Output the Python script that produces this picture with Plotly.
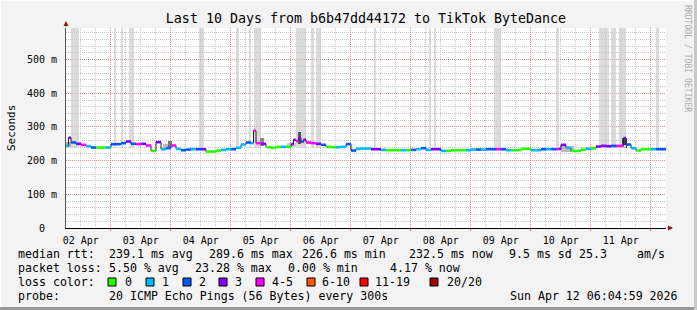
import plotly.graph_objects as go

# ---------------- data ----------------
day_labels = ["02 Apr", "03 Apr", "04 Apr", "05 Apr", "06 Apr",
              "07 Apr", "08 Apr", "09 Apr", "10 Apr", "11 Apr"]
# hours since graph start (Apr 2 06:05)
NOON_FIRST = 5.917
MIDNIGHT_FIRST = 17.917
SPAN_H = 240

hours = [0, 1, 2, 4, 6, 8, 10, 12, 14, 16, 18, 20, 22, 24, 26, 28, 30, 32, 34, 36, 38,
         40, 42, 44, 46, 48, 50, 52, 54, 56, 58,
         60, 62, 64, 66, 68, 70, 72, 74, 75, 76, 78, 80, 82, 84, 86, 88, 90, 91, 92, 93,
         94, 95, 96, 98, 100, 102, 104, 106, 108, 110, 112, 114, 116, 118,
         120, 122, 124, 126, 128, 130, 132, 134, 136, 138, 140, 142, 144, 146, 148, 150,
         152, 154, 156, 158, 160, 162, 164, 166, 168, 170, 172, 174, 176, 178, 180,
         182, 184, 186, 188, 190, 192, 194, 196, 197, 198, 200, 202, 204, 206, 208, 210,
         212, 214, 216, 218, 220, 222, 223, 224, 226, 228, 230, 232, 234, 236, 238]
median_rtt_ms = [244, 268, 254, 250, 247, 243, 239, 239, 239, 239, 249, 249, 252, 257, 250, 249, 250, 245, 229, 255, 234,
                 237, 245, 235, 231, 233, 234, 234, 234, 227, 227,
                 230, 232, 234, 234, 238, 248, 254, 252, 289, 252, 250, 240, 238, 241, 241, 241, 249, 262, 258, 267,
                 256, 262, 254, 252, 250, 247, 241, 240, 240, 241, 249, 230, 235, 236,
                 236, 234, 234, 232, 231, 231, 231, 231, 231, 232, 234, 237, 232, 234, 234, 229,
                 229, 231, 231, 231, 231, 233, 233, 233, 234, 234, 234, 234, 231, 231, 231,
                 235, 235, 231, 231, 234, 234, 234, 234, 235, 247, 238, 229, 229, 232, 235, 237,
                 242, 244, 243, 244, 244, 244, 267, 248, 237, 230, 234, 234, 234, 234, 234]
loss_count = [1, 3, 2, 3, 4, 1, 2, 0, 0, 1, 2, 2, 2, 3, 2, 4, 3, 4, 0, 3, 1,
              2, 4, 1, 2, 2, 1, 2, 3, 0, 0,
              0, 1, 1, 2, 1, 1, 2, 1, 4, 4, 3, 0, 0, 0, 1, 0, 3, 3, 4, 3,
              2, 3, 4, 4, 3, 2, 0, 0, 1, 1, 2, 2, 1, 1,
              1, 3, 3, 1, 0, 0, 0, 1, 0, 2, 1, 2, 1, 3, 3, 1,
              0, 0, 0, 0, 1, 1, 2, 1, 2, 2, 4, 2, 1, 0, 0,
              0, 0, 1, 1, 2, 1, 2, 4, 3, 3, 1, 0, 0, 0, 1, 0,
              3, 3, 3, 2, 4, 4, 3, 2, 1, 0, 0, 0, 1, 2, 2]

# tall smoke (pings beyond the graph top)
band_start = [2.0, 19.2, 22.0, 25.2, 53.3, 68.0, 73.2, 75.2, 92.0, 98.0, 100.0, 123.2,
              145.2, 147.2, 171.2, 196.0, 213.2, 217.9, 221.2, 235.9]
band_end = [5.2, 20.0, 22.9, 27.2, 55.2, 69.2, 74.0, 78.0, 95.9, 99.1, 101.9, 124.0,
            146.0, 148.0, 173.9, 197.2, 217.1, 220.0, 223.9, 237.2]
BAND_BASE_MS = 238

# local smoke around the median
smoke_start = [38.8, 40.8, 77.5, 92.8, 88.5, 198.0, 206.0, 222.5, 0.0, 213.0]
smoke_end = [40.8, 42.2, 79.0, 94.0, 92.0, 203.0, 212.0, 224.5, 2.0, 224.0]
smoke_lo_ms = [234, 240, 245, 250, 240, 226, 232, 238, 240, 239]
smoke_hi_ms = [249, 259, 267, 285, 252, 244, 242, 268, 256, 248]
smoke_shade = ["#bbbbbb", "#777777", "#888888", "#555555", "#cccccc",
               "#bbbbbb", "#cccccc", "#444444", "#aaaaaa", "#cccccc"]

loss_colors = ["#26ff00", "#00b8ff", "#0059ff", "#7e00ff", "#ff00ff", "#ff5500", "#ff0000", "#a10000"]
loss_labels = ["0", "1", "2", "3", "4-5", "6-10", "11-19", "20/20"]

y_ticks_s = [0, 0.1, 0.2, 0.3, 0.4, 0.5]
y_tick_text = ["0\u00a0\u00a0", "100 m", "200 m", "300 m", "400 m", "500 m"]
Y_TOP = 0.594

# ---------------- geometry helpers (pixels -> paper) ----------------
W, H = 697, 310
L, R, T, B = 66, 31, 28, 82
PW, PH = W - L - R, H - T - B


def px(x):
    return (x - L) / PW


def py(y):
    return (H - B - y) / PH


MONO = "DejaVu Sans Mono"

fig = go.Figure()

# tall bands
fig.add_trace(go.Bar(
    x=[(a + b) / 2 for a, b in zip(band_start, band_end)],
    y=[Y_TOP + 0.01 - BAND_BASE_MS / 1000] * len(band_start),
    base=BAND_BASE_MS / 1000,
    width=[b - a for a, b in zip(band_start, band_end)],
    marker=dict(color="rgba(200,200,200,0.65)", line=dict(width=0)),
    hoverinfo="skip", showlegend=False))

# local smoke
fig.add_trace(go.Bar(
    x=[(a + b) / 2 for a, b in zip(smoke_start, smoke_end)],
    y=[(h - l) / 1000 for l, h in zip(smoke_lo_ms, smoke_hi_ms)],
    base=[l / 1000 for l in smoke_lo_ms],
    width=[b - a for a, b in zip(smoke_start, smoke_end)],
    marker=dict(color=smoke_shade, line=dict(width=0)),
    hoverinfo="skip", showlegend=False))

# thin dark step line
fig.add_trace(go.Scatter(
    x=hours + [SPAN_H], y=[v / 1000 for v in median_rtt_ms] + [median_rtt_ms[-1] / 1000],
    mode="lines", line=dict(color="#202020", width=1, shape="hv"),
    hoverinfo="skip", showlegend=False))

# coloured segments by loss
ends = hours[1:] + [SPAN_H]
for c, col in enumerate(loss_colors):
    xs, ys = [], []
    for h0, h1, v, lc in zip(hours, ends, median_rtt_ms, loss_count):
        if lc == c:
            xs += [h0, h1, None]
            ys += [v / 1000, v / 1000, None]
    if xs:
        fig.add_trace(go.Scatter(x=xs, y=ys, mode="lines",
                                 line=dict(color=col, width=2.6),
                                 hoverinfo="skip", showlegend=False))

# dummy trace for the grid axis
fig.add_trace(go.Scatter(x=[0, SPAN_H], y=[0, 0], xaxis="x2", mode="lines",
                         line=dict(width=0), opacity=0, hoverinfo="skip", showlegend=False))

RED_GRID = "rgba(255,0,0,0.27)"
GRAY_GRID = "#c8c8c8"
DASH = "1px,1px"

fig.update_layout(
    width=W, height=H,
    margin=dict(l=L, r=R, t=T, b=B),
    paper_bgcolor="#f3f3f3", plot_bgcolor="#ffffff",
    barmode="overlay", bargap=0,
    showlegend=False,
    font=dict(family=MONO, color="#000000"),
    title=dict(text="Last 10 Days from b6b47dd44172 to TikTok ByteDance",
               x=0.5, xanchor="center", xref="paper",
               y=1 - 18 / H, yanchor="middle", yref="container",
               font=dict(family=MONO, size=13.3, color="#000000")),
    xaxis=dict(range=[0, SPAN_H], tickmode="array",
               tickvals=[NOON_FIRST + 24 * i for i in range(len(day_labels))],
               ticktext=day_labels, showgrid=False, zeroline=False,
               showline=True, linecolor="#000000", linewidth=1, ticks="",
               ticklabelstandoff=3,
               tickfont=dict(family=MONO, size=10, color="#000000"),
               layer="above traces", fixedrange=True),
    xaxis2=dict(range=[0, SPAN_H], overlaying="x", anchor="y", side="bottom",
                tickmode="array",
                tickvals=[MIDNIGHT_FIRST + 24 * i for i in range(10)],
                showticklabels=False, showgrid=True, gridcolor=RED_GRID,
                griddash=DASH, gridwidth=1, zeroline=False, showline=False,
                ticks="outside", ticklen=2, tickcolor="#ff6060",
                minor=dict(tick0=NOON_FIRST, dtick=6, showgrid=True,
                           gridcolor=GRAY_GRID, griddash=DASH, gridwidth=1,
                           ticks=""),
                fixedrange=True),
    yaxis=dict(range=[0, Y_TOP], tickmode="array", tickvals=y_ticks_s,
               ticktext=y_tick_text, showgrid=True, gridcolor=RED_GRID,
               griddash=DASH, gridwidth=1, zeroline=False,
               showline=True, linecolor="#555555", linewidth=1, ticks="",
               ticklabelstandoff=6,
               tickfont=dict(family=MONO, size=10, color="#000000"),
               minor=dict(tick0=0, dtick=0.02, showgrid=True,
                          gridcolor=GRAY_GRID, griddash=DASH, gridwidth=1),
               fixedrange=True),
)

ann = []


def text(t, x, y, size=11.6, anchor="left", color="#000000", angle=0):
    ann.append(dict(text=t, x=px(x), y=py(y), xref="paper", yref="paper",
                    xanchor=anchor, yanchor="middle", showarrow=False,
                    textangle=angle,
                    font=dict(family=MONO, size=size, color=color)))


# axis label + watermark
text("Seconds", 11, 128, size=11, anchor="center", angle=-90)
text("RRDTOOL / TOBI OETIKER", 688, 58, size=8.1, anchor="center",
     color="#ababab", angle=90)

# legend rows
for t, x in [("median rtt:", 16), ("239.1 ms avg", 107), ("289.6 ms max", 207),
             ("226.6 ms min", 300), ("232.5 ms now", 407), ("9.5 ms sd", 507),
             ("25.3", 577), ("am/s", 635)]:
    text(t, x, 254)
for t, x in [("packet loss:", 16), ("5.50 % avg", 107), ("23.28 % max", 193),
             ("0.00 % min", 286), ("4.17 % now", 388)]:
    text(t, x, 268)
text("loss color:", 16, 282)
box_x = [108, 146, 183, 219, 256, 307, 360, 430]
lab_x = [123, 160, 197, 233, 270, 320, 373, 445]
shapes = []
for bx, lx, col, lab in zip(box_x, lab_x, loss_colors, loss_labels):
    text(lab, lx, 282)
    shapes.append(dict(type="rect", xref="paper", yref="paper",
                       x0=px(bx), x1=px(bx + 8), y0=py(286), y1=py(278),
                       fillcolor=col, line=dict(color="#000000", width=1)))
text("probe:", 16, 296)
text("20 ICMP Echo Pings (56 Bytes) every 300s", 107, 296)
text("Sun Apr 12 06:04:59 2026", 680, 296, anchor="right")

# axis arrows
ann.append(dict(x=px(673), y=py(228), xref="paper", yref="paper",
                ax=-7, ay=0, axref="pixel", ayref="pixel", showarrow=True,
                arrowhead=2, arrowsize=1, arrowwidth=1, arrowcolor="#8b1a1a", text=""))
ann.append(dict(x=px(66), y=py(21), xref="paper", yref="paper",
                ax=0, ay=7, axref="pixel", ayref="pixel", showarrow=True,
                arrowhead=2, arrowsize=1, arrowwidth=1, arrowcolor="#8b1a1a", text=""))

# image frame (3D border)
shapes += [
    dict(type="line", xref="paper", yref="paper", x0=px(0), x1=px(W), y0=py(0.5), y1=py(0.5),
         line=dict(color="#ffffff", width=1)),
    dict(type="line", xref="paper", yref="paper", x0=px(0.5), x1=px(0.5), y0=py(0), y1=py(H),
         line=dict(color="#ffffff", width=1)),
    dict(type="line", xref="paper", yref="paper", x0=px(0), x1=px(W), y0=py(H - 1.5), y1=py(H - 1.5),
         line=dict(color="#9a9a9a", width=3)),
    dict(type="line", xref="paper", yref="paper", x0=px(W - 1.5), x1=px(W - 1.5), y0=py(0), y1=py(H),
         line=dict(color="#c8c8c8", width=3)),
]

fig.update_layout(annotations=ann, shapes=shapes)
fig.write_html("out.html")
